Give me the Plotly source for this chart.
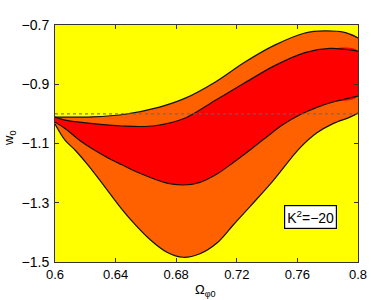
import plotly.graph_objects as go

# Outer (orange) band: upper and lower boundaries
outer_up_x = [0.600, 0.625, 0.645, 0.669, 0.686, 0.7056, 0.7254, 0.745, 0.765, 0.778, 0.791, 0.800]
outer_up_y = [-1.011, -1.010, -1.002, -0.977, -0.947, -0.893, -0.825, -0.768, -0.727, -0.720, -0.725, -0.744]
outer_lo_x = [0.600, 0.6066, 0.6132, 0.6218, 0.633, 0.6442, 0.6528, 0.6627, 0.6739, 0.6845, 0.6957,
              0.7069, 0.7175, 0.7287, 0.7439, 0.7617, 0.7729, 0.7835, 0.7947, 0.800]
outer_lo_y = [-1.034, -1.0885, -1.122, -1.173, -1.247, -1.322, -1.373, -1.424, -1.467, -1.484, -1.472,
              -1.436, -1.376, -1.313, -1.226, -1.115, -1.064, -1.033, -1.011, -0.997]

# Inner (red) band: upper and lower boundaries
inner_up_x = [0.600, 0.6066, 0.6218, 0.6442, 0.666, 0.686, 0.7056, 0.725, 0.745, 0.765, 0.7815, 0.800]
inner_up_y = [-1.011, -1.021, -1.031, -1.041, -1.040, -1.014, -0.955, -0.896, -0.837, -0.793, -0.779, -0.788]
inner_lo_x = [0.600, 0.6066, 0.6178, 0.633, 0.6442, 0.6548, 0.6739, 0.6845, 0.6957, 0.7069, 0.7175,
              0.7287, 0.7399, 0.7505, 0.7617, 0.7729, 0.7835, 0.800]
inner_lo_y = [-1.028, -1.049, -1.095, -1.143, -1.172, -1.198, -1.234, -1.240, -1.231, -1.203, -1.165,
              -1.122, -1.077, -1.036, -1.003, -0.978, -0.960, -0.940]

ref_w = -1.0
label_text = "K<sup>2</sup>=\u221220"

YELLOW = "#FFFF00"
ORANGE = "#FF6000"
RED = "#FF0000"

W, H = 371, 300
ML, MR, MT, MB = 55, 13, 25, 38

fig = go.Figure()

def band(ux, uy, lx, ly, color):
    fig.add_trace(go.Scatter(
        x=list(ux) + list(lx[::-1]), y=list(uy) + list(ly[::-1]),
        mode="lines", fill="toself", fillcolor=color,
        line=dict(color=color, width=0, shape="spline", smoothing=1.0),
        hoverinfo="skip", showlegend=False))

band(outer_up_x, outer_up_y, outer_lo_x, outer_lo_y, ORANGE)
band(inner_up_x, inner_up_y, inner_lo_x, inner_lo_y, RED)

for xs, ys in [(outer_up_x, outer_up_y), (outer_lo_x, outer_lo_y),
               (inner_up_x, inner_up_y), (inner_lo_x, inner_lo_y)]:
    fig.add_trace(go.Scatter(x=xs, y=ys, mode="lines",
                             line=dict(color="#111111", width=1.2, shape="spline", smoothing=1.0),
                             hoverinfo="skip", showlegend=False))

fig.add_trace(go.Scatter(x=[0.6, 0.8], y=[ref_w, ref_w], mode="lines",
                         line=dict(color="#666666", width=1, dash="dot"),
                         hoverinfo="skip", showlegend=False))

font = dict(family="Liberation Sans, Arial, sans-serif", size=13, color="black")
yfont = dict(family="Liberation Sans, Arial, sans-serif", size=14, color="black")

fig.update_layout(
    width=W, height=H,
    margin=dict(l=ML, r=MR, t=MT, b=MB, autoexpand=False),
    paper_bgcolor="white", plot_bgcolor=YELLOW,
    font=font,
    xaxis=dict(range=[0.6, 0.8], tick0=0.6, dtick=0.04, ticks="inside", ticklen=4,
               tickcolor="#333333", showgrid=False, zeroline=False, automargin=False,
               showline=True, linecolor="#333333", linewidth=1, mirror="ticks",
               tickfont=font),
    yaxis=dict(range=[-1.5, -0.7], tick0=-1.5, dtick=0.2, ticks="inside", ticklen=4,
               tickcolor="#333333", showgrid=False, zeroline=False, automargin=False,
               showline=True, linecolor="#333333", linewidth=1, mirror="ticks",
               tickfont=yfont, ticklabelstandoff=2),
)

fig.add_annotation(x=0.7686, y=-1.347, xref="x", yref="y", text=label_text,
                   showarrow=False, font=dict(family="Liberation Sans, Arial, sans-serif", size=14, color="black"),
                   bgcolor="white", bordercolor="black", borderwidth=1.2, borderpad=2)

pw, ph = W - ML - MR, H - MT - MB
fig.add_annotation(x=(205 - ML) / pw, y=(H - MB - 290) / ph, xref="paper", yref="paper",
                   xanchor="center", yanchor="middle",
                   text="\u03a9<sub>\u03c60</sub>", showarrow=False, font=font)
fig.add_annotation(x=(9 - ML) / pw, y=(H - MB - 139) / ph, xref="paper", yref="paper",
                   xanchor="center", yanchor="middle",
                   text="w<sub>0</sub>", showarrow=False, textangle=-90, font=font)

fig.write_html("out.html", config={"displayModeBar": False},
               post_script="document.body.style.margin='0';document.body.style.padding='0';document.body.style.overflow='hidden';")
